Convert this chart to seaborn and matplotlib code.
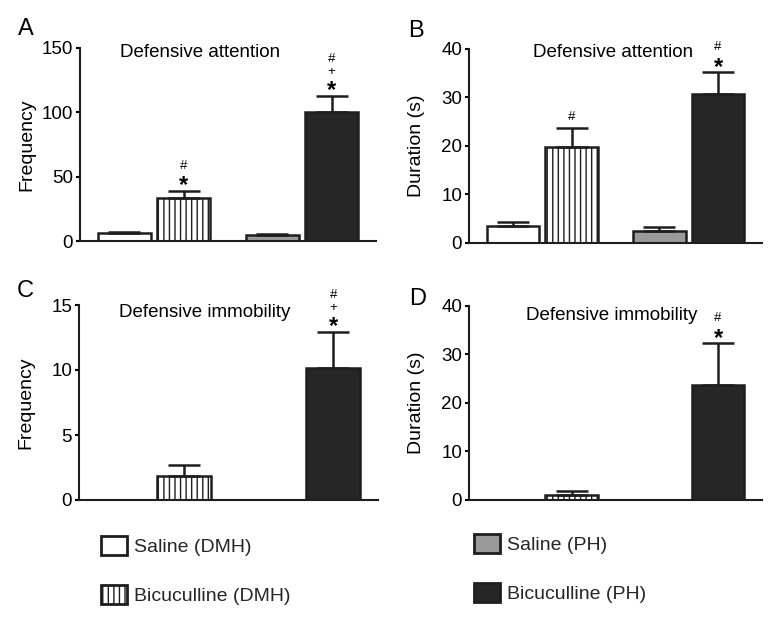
import matplotlib.pyplot as plt
import pandas as pd
import seaborn as sns
from matplotlib.patches import Patch

# bar order left to right: Saline (DMH), Bicuculline (DMH), Saline (PH), Bicuculline (PH)
regions = ["DMH", "PH"]
treatments = ["Saline", "Bicuculline"]
legend_labels = ["Saline (DMH)", "Bicuculline (DMH)", "Saline (PH)", "Bicuculline (PH)"]

att_freq_mean = [6.0, 33.5, 4.5, 100.0]
att_freq_sem = [1.3, 5.5, 1.0, 12.7]
att_dur_mean = [3.6, 19.8, 2.5, 30.6]
att_dur_sem = [0.8, 3.9, 0.85, 4.6]
imm_freq_mean = [0.0, 1.85, 0.0, 10.15]
imm_freq_sem = [0.0, 0.85, 0.0, 2.8]
imm_dur_mean = [0.0, 1.1, 0.0, 23.7]
imm_dur_sem = [0.0, 0.7, 0.0, 8.6]

# significance marks per bar, listed bottom to top
att_freq_marks = ["", "*#", "", "*+#"]
att_dur_marks = ["", "#", "", "*#"]
imm_freq_marks = ["", "", "", "*+#"]
imm_dur_marks = ["", "", "", "*#"]

panel_letters = ["A", "B", "C", "D"]
panel_titles = ["Defensive attention", "Defensive attention",
                "Defensive immobility", "Defensive immobility"]
y_labels = ["Frequency", "Duration (s)", "Frequency", "Duration (s)"]
y_ticks = [[0, 50, 100, 150], [0, 10, 20, 30, 40], [0, 5, 10, 15], [0, 10, 20, 30, 40]]

# ------
# STYLE
# ------
W, H = 778, 624
EDGE = "#1e1e1e"
face_colors = ["white", "white", "#9a9a9a", "#262626"]
hatches = ["", "|||", "", ""]

sns.set_theme(style="ticks")
plt.rcParams["font.family"] = ["Liberation Sans", "DejaVu Sans"]
plt.rcParams["hatch.linewidth"] = 1.0

fig = plt.figure(figsize=(W / 100, H / 100), dpi=100)

# axes boxes in pixels: left, top, right, bottom
boxes = [(80, 48, 376, 241), (469, 48.7, 762, 243),
         (79, 305, 378, 500), (469, 305.7, 762, 500)]
title_pos = [(0.405, 0.953), (0.49, 0.956), (0.42, 0.937), (0.487, 0.926)]
letter_pos = [(18, 35), (408, 37), (17, 297), (409, 305)]

panels = [
    (att_freq_mean, att_freq_sem, att_freq_marks),
    (att_dur_mean, att_dur_sem, att_dur_marks),
    (imm_freq_mean, imm_freq_sem, imm_freq_marks),
    (imm_dur_mean, imm_dur_sem, imm_dur_marks),
]

slot_pts = [7.6, 18.0, 25.4]

for i, (means, sems, marks) in enumerate(panels):
    l, t, r, b = boxes[i]
    ax = fig.add_axes([l / W, 1 - b / H, (r - l) / W, (b - t) / H])

    df = pd.DataFrame({
        "region": [reg for reg in regions for _ in treatments],
        "treatment": treatments * len(regions),
        "value": means,
    })
    sns.barplot(data=df, x="region", y="value", hue="treatment",
                order=regions, hue_order=treatments, gap=0.1,
                errorbar=None, legend=False, ax=ax,
                linewidth=1.8, edgecolor=EDGE)

    bars = sorted(ax.patches, key=lambda p: p.get_x())
    for bar, fc, hatch in zip(bars, face_colors, hatches):
        bar.set_facecolor(fc)
        bar.set_edgecolor(EDGE)
        bar.set_hatch(hatch)
        if bar.get_height() == 0:
            bar.set_visible(False)

    for bar, sem, mark in zip(bars, sems, marks):
        if sem == 0:
            continue
        cx = bar.get_x() + bar.get_width() / 2
        top = bar.get_height()
        ax.errorbar(cx, top, yerr=[[0], [sem]], fmt="none", ecolor=EDGE,
                    elinewidth=1.8, capsize=11.5, capthick=1.8, clip_on=False)

        rest = mark
        slot = 0
        if mark.startswith("*"):
            ax.annotate("*", xy=(cx, top + sem), xytext=(0, slot_pts[0] - 4),
                        textcoords="offset points", ha="center", va="center",
                        fontsize=17, fontweight="bold", color="black")
            rest = mark[1:]
            slot = 1
        if rest:
            # stack the small signs in one text, top sign first
            off = (slot_pts[slot] + slot_pts[slot + len(rest) - 1]) / 2
            ax.annotate("\n".join(rest[::-1]), xy=(cx, top + sem),
                        xytext=(0, off), textcoords="offset points",
                        ha="center", va="center", fontsize=9.5,
                        linespacing=1.1, color="black")

    ax.set_ylim(0, y_ticks[i][-1])
    ax.set_xlim(-0.5, 1.5)
    ax.set_yticks(y_ticks[i])
    ax.set_xticks([])
    ax.set_xlabel("")
    ax.set_ylabel(y_labels[i], fontsize=14, color="black")
    ax.yaxis.set_label_coords(-0.15, 0.5)
    ax.tick_params(axis="y", length=3, width=1.5, pad=2, labelsize=13.5,
                   colors="black")
    sns.despine(ax=ax)
    for side in ["left", "bottom"]:
        ax.spines[side].set_linewidth(1.5)
        ax.spines[side].set_color(EDGE)

    tx, ty = title_pos[i]
    ax.text(tx, ty, panel_titles[i], transform=ax.transAxes, ha="center",
            va="baseline", fontsize=13.5, color="black")

    lx, ly = letter_pos[i]
    fig.text(lx / W, 1 - ly / H, panel_letters[i], fontsize=17,
             va="baseline", ha="left", color="black")

# ------
# LEGEND
# ------
handles = [Patch(facecolor=fc, edgecolor=EDGE, hatch=h, linewidth=2)
           for fc, h in zip(face_colors, hatches)]
legend_kw = dict(frameon=False, fontsize=14, handlelength=1.35,
                 handleheight=1.1, handletextpad=0.35, labelspacing=1.5,
                 borderpad=0, borderaxespad=0, loc="upper left")
fig.legend(handles[:2], legend_labels[:2],
           bbox_to_anchor=(101 / W, 1 - 536 / H), **legend_kw)
fig.legend(handles[2:], legend_labels[2:],
           bbox_to_anchor=(474 / W, 1 - 534 / H), **legend_kw)

fig.savefig("out.png", dpi=100)
